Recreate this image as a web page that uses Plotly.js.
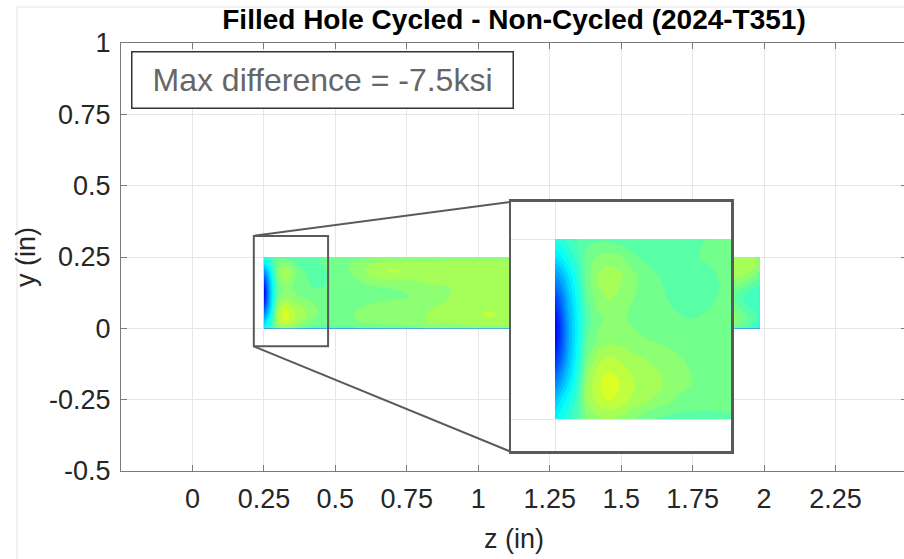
<!DOCTYPE html>
<html>
<head>
<meta charset="utf-8">
<script src="https://cdn.plot.ly/plotly-3.0.1.min.js"></script>
<style>
  html, body { margin: 0; padding: 0; overflow: hidden; background: #fff; width: 904px; height: 559px; }
  #chart { width: 908px; height: 559px; }
</style>
</head>
<body>
<div id="chart"></div>
<script>
// Axial stations z (in) and through-thickness stations y (in) of the sampled field
const zPos = [0.25, 0.258, 0.268, 0.28, 0.295, 0.31, 0.325, 0.34, 0.36, 0.38,
              0.40, 0.42, 0.44, 0.46, 0.49, 0.52, 0.58, 0.64, 0.70, 0.76,
              0.82, 0.90, 0.98, 1.04, 1.11, 1.3, 1.6, 1.88, 1.93, 1.985];
const yPos = [0, 0.025, 0.05, 0.08, 0.11, 0.14, 0.17, 0.2, 0.225, 0.25];

// Stress difference (ksi), one list per z station, ordered from y = 0 up to y = 0.25
const diffByZ = [
  [-2.6, -3.6, -5.0, -6.6, -7.5, -7.4, -6.2, -4.6, -3.0, -1.8],
  [-2.1, -2.9, -4.2, -5.5, -6.2, -6.1, -5.3, -4.0, -2.6, -1.6],
  [-1.7, -2.2, -3.1, -3.9, -4.3, -4.2, -3.8, -3.0, -2.0, -1.3],
  [-1.0, -1.3, -1.8, -2.3, -2.6, -2.6, -2.3, -1.8, -1.3, -1.0],
  [ 0.1,  0.6,  0.6,  0.0, -0.5, -0.7, -0.5, -0.2, -0.3, -0.7],
  [ 0.4,  1.2,  1.4,  0.9,  0.1, -0.1,  0.3,  0.5,  0.1, -0.6],
  [ 0.5,  1.5,  1.8,  1.2,  0.3,  0.1,  0.6,  0.8,  0.2, -0.7],
  [ 0.4,  1.3,  1.5,  1.0,  0.3,  0.1,  0.4,  0.6,  0.1, -0.8],
  [ 0.0,  0.8,  1.0,  0.7,  0.1, -0.1,  0.0,  0.1, -0.4, -0.9],
  [-0.4,  0.5,  0.8,  0.5,  0.0, -0.2, -0.2, -0.3, -0.7, -1.0],
  [-0.6,  0.2,  0.5,  0.3, -0.1, -0.2, -0.4, -0.6, -0.8, -1.0],
  [-0.7, -0.1,  0.2,  0.1, -0.2, -0.4, -0.8, -0.9, -0.7, -0.8],
  [-0.7, -0.2,  0.0, -0.1, -0.2, -0.5, -1.0, -1.0, -0.6, -0.6],
  [-0.7, -0.3, -0.2, -0.2, -0.2, -0.4, -0.7, -0.7, -0.4, -0.5],
  [-0.6, -0.3, -0.2, -0.2, -0.2, -0.3, -0.3, -0.3, -0.3, -0.4],
  [-0.6, -0.4, -0.3, -0.4, -0.5, -0.5, -0.4, -0.3, -0.2, -0.4],
  [-0.5,  0.0,  0.1, -0.1, -0.4, -0.4,  0.0,  0.3,  0.2, -0.2],
  [-0.4,  0.2,  0.3,  0.1, -0.2, -0.1,  0.4,  0.8,  0.6,  0.0],
  [-0.3,  0.3,  0.4,  0.2, -0.1,  0.0,  0.5,  1.1,  0.8,  0.1],
  [-0.2,  0.4,  0.4,  0.2,  0.0,  0.1,  0.5,  0.9,  0.7,  0.2],
  [ 0.0,  0.5,  0.5,  0.4,  0.3,  0.4,  0.6,  0.7,  0.6,  0.3],
  [ 0.1,  0.6,  0.6,  0.6,  0.5,  0.5,  0.6,  0.6,  0.6,  0.4],
  [ 0.2,  0.8,  0.9,  0.7,  0.6,  0.6,  0.6,  0.6,  0.6,  0.4],
  [ 0.3,  0.9,  1.1,  0.8,  0.6,  0.6,  0.6,  0.6,  0.6,  0.4],
  [ 0.3,  0.7,  0.8,  0.7,  0.6,  0.6,  0.6,  0.6,  0.6,  0.4],
  [ 0.3,  0.6,  0.6,  0.6,  0.6,  0.6,  0.6,  0.6,  0.6,  0.4],
  [ 0.3,  0.6,  0.6,  0.6,  0.6,  0.6,  0.6,  0.6,  0.6,  0.4],
  [-0.3,  0.3,  0.3,  0.0, -0.3,  0.0,  0.4,  0.8,  0.9,  0.6],
  [-0.8, -0.3, -0.4, -0.9, -1.0, -0.6,  0.2,  0.8,  1.0,  0.8],
  [-1.8, -1.3, -1.2, -1.4, -1.5, -1.2, -0.6,  0.0,  0.4,  0.3]
];

const xTickVals = [0, 0.25, 0.5, 0.75, 1, 1.25, 1.5, 1.75, 2, 2.25];
const xTickText = ['0', '0.25', '0.5', '0.75', '1', '1.25', '1.5', '1.75', '2', '2.25'];
const yTickVals = [-0.5, -0.25, 0, 0.25, 0.5, 0.75, 1];
const yTickText = ['-0.5', '-0.25', '0', '0.25', '0.5', '0.75', '1'];

const maxDifference = -7.5;

// contour expects rows along y, columns along z
const diffGrid = yPos.map((_, j) => zPos.map((_, i) => diffByZ[i][j]));

const jet = [
  [0, 'rgb(0,0,143)'], [0.125, 'rgb(0,0,255)'], [0.375, 'rgb(0,255,255)'],
  [0.625, 'rgb(255,255,0)'], [0.875, 'rgb(255,0,0)'], [1, 'rgb(128,0,0)']
];

function field(xa, ya) {
  return {
    type: 'contour', x: zPos, y: yPos, z: diffGrid,
    xaxis: xa, yaxis: ya,
    zauto: false, zmin: -10, zmax: 10,
    colorscale: jet,
    contours: { coloring: 'fill', start: -10, end: 10, size: 0.5, showlines: false },
    line: { width: 0, smoothing: 1.3 },
    showscale: false, hoverinfo: 'skip'
  };
}

const FONT = 'Liberation Sans, Arial, Helvetica, sans-serif';
const AX = '#7a7a7a';
const GRID = '#e6e6e6';
const FRAME = '#5a5a5a';

// zoom window on the hole edge and the magnified panel, in main-axis units
const zoomBox = { z0: 0.2147, z1: 0.4745, y0: -0.063, y1: 0.324 };
const panel = { z0: 1.113, y0: -0.432, y1: 0.443 };

const layout = {
  width: 908, height: 559,
  margin: { l: 121, r: 1, t: 43, b: 88 },
  paper_bgcolor: '#fff', plot_bgcolor: '#fff',
  font: { family: FONT, color: '#262626' },
  showlegend: false,
  title: {
    text: '<b>Filled Hole Cycled - Non-Cycled (2024-T351)</b>',
    font: { family: FONT, size: 28, color: '#000' },
    x: 0.5, xref: 'paper', xanchor: 'center',
    y: 1 - 19 / 559, yref: 'container', yanchor: 'middle'
  },
  xaxis: {
    domain: [0, 1], range: [-0.25, 2.5],
    tickvals: xTickVals, ticktext: xTickText,
    tickfont: { size: 27, color: '#262626' },
    ticks: 'inside', ticklen: 6, tickcolor: AX,
    showline: true, linecolor: AX, linewidth: 1, mirror: 'ticks',
    showgrid: true, gridcolor: GRID, gridwidth: 1, zeroline: false,
    ticklabelstandoff: 4,
    title: { text: 'z (in)', font: { size: 27, color: '#262626' }, standoff: 15 }
  },
  yaxis: {
    domain: [0, 1], range: [-0.5, 1],
    tickvals: yTickVals, ticktext: yTickText,
    tickfont: { size: 27, color: '#262626' },
    ticks: 'inside', ticklen: 6, tickcolor: AX,
    showline: true, linecolor: AX, linewidth: 1, mirror: 'ticks',
    showgrid: true, gridcolor: GRID, gridwidth: 1, zeroline: false,
    ticklabelstandoff: 4,
    title: { text: 'y (in)', font: { size: 27, color: '#262626' }, standoff: 5 }
  },
  xaxis2: {
    domain: [(511 - 121) / 786, (731 - 121) / 786], range: [0.1889, 0.4944],
    anchor: 'y2', tick0: 0, dtick: 0.25, showticklabels: false, ticks: '',
    showgrid: true, gridcolor: GRID, zeroline: false,
    showline: true, mirror: true, linecolor: FRAME, linewidth: 2.5
  },
  yaxis2: {
    domain: [(471 - 451) / 428, (471 - 201.7) / 428], range: [-0.0444, 0.3018],
    anchor: 'x2', tick0: 0, dtick: 0.25, showticklabels: false, ticks: '',
    showgrid: true, gridcolor: GRID, zeroline: false,
    showline: true, mirror: true, linecolor: FRAME, linewidth: 2.5
  },
  shapes: [
    { type: 'rect', xref: 'x', yref: 'y', x0: zoomBox.z0, x1: zoomBox.z1, y0: zoomBox.y0, y1: zoomBox.y1,
      line: { color: FRAME, width: 2 }, layer: 'above' },
    { type: 'line', xref: 'x', yref: 'y', x0: zoomBox.z0, y0: zoomBox.y1, x1: panel.z0, y1: panel.y1,
      line: { color: FRAME, width: 2 }, layer: 'above' },
    { type: 'line', xref: 'x', yref: 'y', x0: zoomBox.z0, y0: zoomBox.y0, x1: panel.z0, y1: panel.y0,
      line: { color: FRAME, width: 2 }, layer: 'above' },
    // faint figure frame
    { type: 'line', xref: 'paper', yref: 'paper', x0: (17 - 121) / 786, x1: (17 - 121) / 786,
      y0: (471 - 7) / 428, y1: (471 - 570) / 428, line: { color: '#e4e4e4', width: 1 } },
    { type: 'line', xref: 'paper', yref: 'paper', x0: (17 - 121) / 786, x1: 1.2,
      y0: (471 - 7) / 428, y1: (471 - 7) / 428, line: { color: '#e4e4e4', width: 1 } }
  ],
  annotations: [{
    text: 'Max difference = ' + maxDifference + 'ksi',
    xref: 'paper', yref: 'paper',
    x: (131 - 121) / 786, xanchor: 'left',
    y: (471 - 51) / 428, yanchor: 'top',
    width: 380, height: 55, align: 'center', valign: 'middle',
    showarrow: false,
    bgcolor: '#fff', bordercolor: '#333', borderwidth: 1.5, borderpad: 0,
    font: { family: FONT, size: 32, color: '#666' }
  }]
};

Plotly.newPlot('chart', [field('x', 'y'), field('x2', 'y2')], layout,
  { staticPlot: true, displayModeBar: false });
</script>
</body>
</html>
